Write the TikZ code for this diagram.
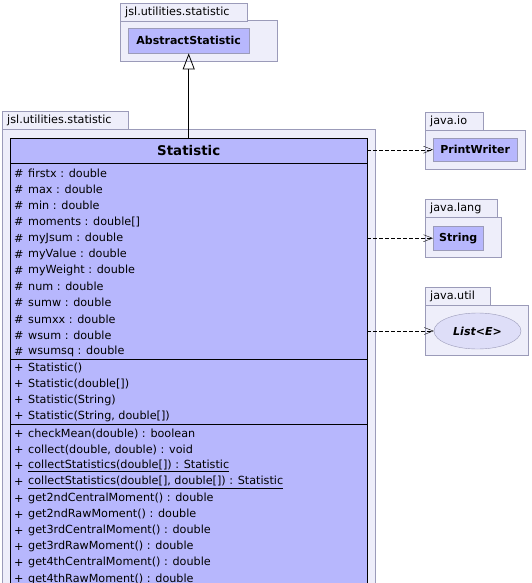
\documentclass[tikz,border=0pt]{standalone}
\usepackage{fontspec}
\setmainfont{DejaVu Sans}
\usetikzlibrary{arrows.meta,positioning,shapes.geometric}
\definecolor{pkgfill}{RGB}{238,238,250}
\definecolor{pkgline}{RGB}{155,155,185}
\definecolor{clsfill}{RGB}{183,183,253}
\definecolor{ifcfill}{RGB}{222,222,248}
\newcommand{\memfont}{\fontsize{11.2}{13}\selectfont}

\begin{document}
\begin{tikzpicture}[x=1pt, y=-1pt,
  pkgbody/.style={draw=pkgline, fill=pkgfill, anchor=north west, inner sep=0pt},
  pkgtab/.style={draw=pkgline, fill=pkgfill, anchor=north west, inner xsep=5pt,
                 inner ysep=0pt, minimum height=18pt, align=left, font=\memfont},
  cls/.style={draw=pkgline, fill=clsfill, anchor=north west, inner sep=0pt,
              font=\fontsize{11}{13}\selectfont\bfseries},
  vis/.style={anchor=west, inner sep=0pt, font=\memfont},
  member/.style={anchor=west, inner sep=0pt, font=\memfont},
  inherit/.style={-{Triangle[open, width=12pt, length=16pt]}, thick},
  dep/.style={-{Straight Barb[length=9pt, width=7pt]}, dashed, dash pattern=on 4pt off 2pt},
]
\useasboundingbox (0,0) rectangle (531,583);
\clip (0,0) rectangle (531,583);

% Abstract superclass
\node[pkgbody, minimum width=157pt, minimum height=41pt] (abspkg) at (120,20) {};
\node[pkgtab, text width=117pt] (abstab) at (120,3) {jsl.utilities.statistic};
\node[cls, minimum width=121pt, minimum height=25pt] (abstract) at (128,28) {AbstractStatistic};

% Main package and class
\node[pkgbody, minimum width=373pt, minimum height=500pt] (mainpkg) at (2,129) {};
\node[pkgtab, text width=116pt] (maintab) at (2,111) {jsl.utilities.statistic};
\node[cls, draw=black, minimum width=357pt, minimum height=480pt] (statistic) at (10,138) {};
\node[font=\fontsize{13.4}{16}\selectfont\bfseries] (title) at (statistic.north |- 0,151) {Statistic};
\draw (statistic.west |- 0,163) -- (statistic.east |- 0,163);
\draw (statistic.west |- 0,359) -- (statistic.east |- 0,359);
\draw (statistic.west |- 0,424) -- (statistic.east |- 0,424);

% Attributes
\foreach \txt [count=\i] in {firstx : double, max : double, min : double,
    moments : double[], myJsum : double, myValue : double, myWeight : double,
    num : double, sumw : double, sumxx : double, wsum : double, wsumsq : double} {
  \node[vis] (avis\i) at (14, 157+16.2*\i) {\#};
  \node[member] (attr\i) at (28, 157+16.2*\i) {\txt};
}
% Constructors
\foreach \txt [count=\i] in {Statistic(), Statistic(double[]), Statistic(String),
    {Statistic(String, double[])}} {
  \node[vis] (cvis\i) at (14, 352+16.1*\i) {+};
  \node[member] (ctor\i) at (28, 352+16.1*\i) {\txt};
}
% Methods
\foreach \txt [count=\i] in {checkMean(double) : boolean, {collect(double, double) : void},
    \underline{collectStatistics(double[]) : Statistic},
    {\underline{collectStatistics(double[], double[]) : Statistic}},
    get2ndCentralMoment() : double, get2ndRawMoment() : double,
    get3rdCentralMoment() : double, get3rdRawMoment() : double,
    get4thCentralMoment() : double, get4thRawMoment() : double} {
  \node[vis] (mvis\i) at (14, 418+16.1*\i) {+};
  \node[member] (meth\i) at (28, 418+16.1*\i) {\txt};
}

% Used classes
\node[pkgbody, minimum width=100pt, minimum height=39pt] (iopkg) at (425,130) {};
\node[pkgtab, text width=48pt] (iotab) at (425,112) {java.io};
\node[cls, minimum width=84pt, minimum height=23pt] (printwriter) at (433,138) {PrintWriter};

\node[pkgbody, minimum width=76pt, minimum height=40pt] (langpkg) at (425,217) {};
\node[pkgtab, text width=62pt] (langtab) at (425,199) {java.lang};
\node[cls, minimum width=50pt, minimum height=24pt] (string) at (433,226) {String};

\node[pkgbody, minimum width=103pt, minimum height=50pt] (utilpkg) at (425,305) {};
\node[pkgtab, text width=55pt] (utiltab) at (425,287) {java.util};
\node[ellipse, draw=pkgline, fill=ifcfill, minimum width=87pt, minimum height=36pt,
      inner sep=0pt, font=\fontsize{11}{13}\selectfont\bfseries\itshape] (list) at (477.5,331) {List<E>};

% Relations
\draw[inherit] (statistic.north) -- (abstract.south);
\draw[dep] (statistic.east |- printwriter.west) -- (printwriter.west);
\draw[dep] (statistic.east |- string.west) -- (string.west);
\draw[dep] (statistic.east |- list.west) -- (list.west);
\end{tikzpicture}
\end{document}
